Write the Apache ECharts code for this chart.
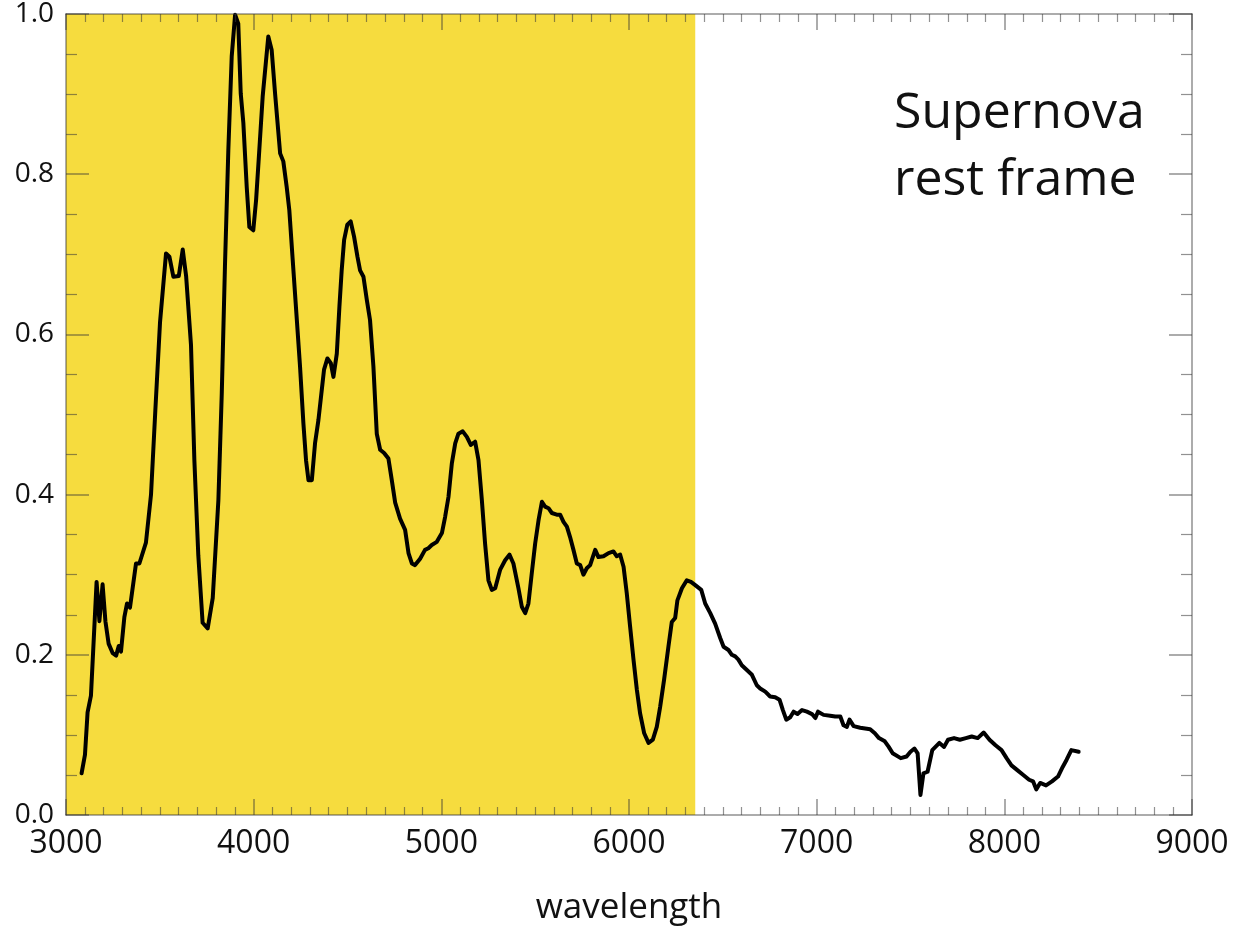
<!DOCTYPE html>
<html>
<head>
<meta charset="utf-8">
<script src="https://cdn.jsdelivr.net/npm/echarts@6/dist/echarts.min.js"></script>
<style>
html,body{margin:0;padding:0;background:#fff;}
#chart{width:1238px;height:929px;}
</style>
</head>
<body>
<div id="chart"></div>
<script>
// Spectrum data
var wavelength = [
3083,3101,3115,3133,3163,3178,3195,3210,3227,3249,3267,3281,3293,3311,3325,3341,3373,3391,3426,3453,
3476,3501,3533,3551,3572,3601,3622,3640,3666,3684,3705,3728,3755,3782,3812,3830,3847,3865,3883,3901,
3918,3931,3945,3963,3977,3998,4013,4030,4048,4078,4096,4114,4132,4141,4158,4176,4190,4208,4230,4247,
4265,4279,4292,4310,4327,4345,4363,4375,4393,4411,4425,4443,4457,4469,4482,4499,4517,4535,4553,4567,
4585,4603,4620,4638,4656,4674,4695,4718,4736,4754,4780,4807,4825,4843,4860,4887,4913,4931,4949,4976,
5003,5020,5038,5056,5074,5091,5114,5136,5157,5180,5198,5216,5233,5251,5269,5287,5313,5340,5363,5384,
5411,5429,5447,5464,5482,5500,5518,5536,5553,5571,5589,5615,5633,5651,5669,5686,5704,5722,5740,5757,
5775,5793,5807,5820,5837,5864,5891,5917,5935,5953,5971,5988,6006,6024,6042,6059,6081,6104,6127,6148,
6166,6187,6210,6228,6246,6258,6282,6308,6330,6353,6385,6406,6433,6459,6486,6504,6530,6548,6566,6583,
6601,6628,6655,6681,6699,6726,6752,6779,6802,6820,6838,6859,6877,6898,6922,6948,6975,6993,7007,7037,
7072,7099,7126,7143,7161,7175,7197,7232,7285,7310,7332,7363,7384,7405,7448,7479,7500,7521,7538,7553,
7569,7591,7616,7654,7679,7700,7732,7763,7795,7826,7858,7890,7921,7953,7985,8012,8038,8069,8101,8132,
8153,8170,8191,8222,8254,8286,8311,8332,8357,8396
];
var flux = [
0.052,0.075,0.128,0.149,0.291,0.242,0.288,0.242,0.214,0.202,0.199,0.211,0.204,0.247,0.264,0.259,0.314,0.314,0.340,0.400,
0.505,0.615,0.701,0.697,0.672,0.673,0.706,0.673,0.587,0.443,0.324,0.240,0.233,0.271,0.393,0.526,0.685,0.830,0.947,0.999,
0.988,0.901,0.864,0.784,0.734,0.730,0.768,0.830,0.897,0.972,0.955,0.901,0.851,0.826,0.816,0.784,0.755,0.693,0.618,0.560,
0.489,0.443,0.418,0.418,0.464,0.493,0.531,0.556,0.570,0.564,0.547,0.576,0.635,0.680,0.718,0.737,0.741,0.722,0.697,0.680,
0.672,0.643,0.618,0.560,0.476,0.456,0.452,0.445,0.418,0.390,0.370,0.356,0.327,0.314,0.312,0.320,0.331,0.333,0.337,0.341,
0.352,0.372,0.397,0.439,0.464,0.476,0.479,0.472,0.462,0.466,0.443,0.393,0.339,0.293,0.281,0.283,0.306,0.318,0.325,0.314,
0.283,0.260,0.252,0.264,0.302,0.339,0.368,0.391,0.385,0.383,0.377,0.375,0.375,0.366,0.360,0.347,0.331,0.314,0.312,0.300,
0.308,0.312,0.322,0.331,0.322,0.323,0.327,0.329,0.323,0.325,0.310,0.277,0.235,0.194,0.156,0.127,0.102,0.090,0.094,0.110,
0.135,0.169,0.210,0.241,0.246,0.268,0.283,0.293,0.291,0.287,0.281,0.264,0.252,0.239,0.221,0.210,0.206,0.200,0.198,0.194,
0.187,0.181,0.175,0.162,0.158,0.154,0.148,0.147,0.144,0.131,0.119,0.122,0.129,0.126,0.131,0.129,0.126,0.121,0.129,0.125,
0.124,0.123,0.123,0.112,0.110,0.119,0.111,0.109,0.107,0.102,0.096,0.092,0.085,0.077,0.071,0.073,0.079,0.083,0.077,0.025,
0.052,0.054,0.081,0.090,0.085,0.094,0.096,0.094,0.096,0.098,0.096,0.103,0.094,0.087,0.081,0.071,0.062,0.056,0.050,0.044,
0.042,0.032,0.040,0.037,0.042,0.048,0.060,0.069,0.081,0.079
];
var xTicks = [3000, 4000, 5000, 6000, 7000, 8000, 9000];
var yTicks = [0.0, 0.2, 0.4, 0.6, 0.8, 1.0];
var bandRange = [3000, 6353];
var xTitle = 'wavelength';
var noteText = 'Supernova\nrest frame';

var FONT = "'Open Sans', 'Noto Sans', sans-serif";
var axisCol = 'rgba(55,55,55,0.55)';
var points = wavelength.map(function (w, i) { return [w, flux[i]]; });

function xAxisDef(pos, labels) {
  return {
    type: 'value', position: pos,
    min: xTicks[0], max: xTicks[xTicks.length - 1], interval: 1000,
    z: 5,
    axisLine: { show: true, onZero: false, lineStyle: { color: axisCol, width: 1.5 } },
    axisTick: { show: true, inside: true, length: 16, lineStyle: { color: axisCol, width: 1.5 } },
    minorTick: { show: true, splitNumber: 10, length: 8, lineStyle: { color: axisCol, width: 1.2 } },
    splitLine: { show: false },
    axisLabel: { show: labels, fontSize: 32, color: '#111', margin: 13, fontFamily: FONT,
      formatter: function (v) { return String(v); } },
    name: labels ? xTitle : '', nameLocation: 'middle', nameGap: 76,
    nameTextStyle: { fontSize: 35, color: '#111', fontFamily: FONT }
  };
}
function yAxisDef(pos, labels) {
  return {
    type: 'value', position: pos,
    min: yTicks[0], max: yTicks[yTicks.length - 1], interval: 0.2,
    z: 5,
    axisLine: { show: true, onZero: false, lineStyle: { color: axisCol, width: 1.5 } },
    axisTick: { show: true, inside: true, length: 23, lineStyle: { color: axisCol, width: 1.5 } },
    minorTick: { show: true, splitNumber: 4, length: 11, lineStyle: { color: axisCol, width: 1.2 } },
    splitLine: { show: false },
    axisLabel: { show: labels, fontSize: 28, color: '#111', margin: 12, fontFamily: FONT,
      formatter: function (v) { return v.toFixed(1); } }
  };
}

var chart = echarts.init(document.getElementById('chart'), null, { renderer: 'canvas' });
chart.setOption({
  backgroundColor: '#ffffff',
  animation: false,
  grid: { left: 66, right: 46, top: 14, bottom: 114, containLabel: false, outerBoundsMode: 'none' },
  xAxis: [xAxisDef('bottom', true), xAxisDef('top', false)],
  yAxis: [yAxisDef('left', true), yAxisDef('right', false)],
  graphic: [{
    type: 'text', left: 894, top: 80, z: 10,
    style: { text: noteText, font: "50px 'Open Sans', sans-serif", fill: '#111', lineHeight: 67 }
  }],
  series: [
    {
      type: 'line', xAxisIndex: 0, yAxisIndex: 0, data: [], z: 1, silent: true,
      markArea: {
        silent: true,
        itemStyle: { color: '#F6DC3E', opacity: 1 },
        data: [[{ xAxis: bandRange[0] }, { xAxis: bandRange[1] }]]
      }
    },
    {
      type: 'line', xAxisIndex: 0, yAxisIndex: 0, data: points, z: 3,
      showSymbol: false, symbol: 'none', smooth: false,
      lineStyle: { color: '#000', width: 4, join: 'round', cap: 'round' }
    }
  ]
});
</script>
</body>
</html>
